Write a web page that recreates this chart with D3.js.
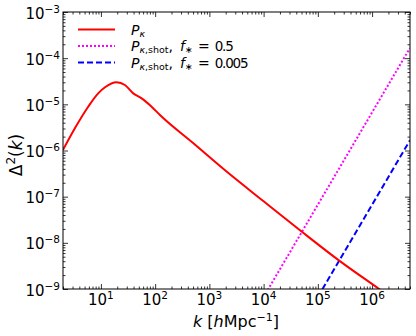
<!DOCTYPE html>
<html><head><meta charset="utf-8">
<script src="https://cdn.jsdelivr.net/npm/d3@7"></script>
<style>body{margin:0;background:#fff}svg{display:block}</style>
</head><body><svg id="c" width="416" height="336"></svg>
<script>
// ---- data ----
const redK = [2.0, 3.31, 5.83, 8.91, 11.9, 19.5, 27.7, 39.4, 56.4, 86.1, 122.7, 501, 1995, 10000, 50100, 251000, 1350000, 2000000];
const redD = [1.03e-6, 3.03e-6, 8.89e-6, 1.73e-5, 2.34e-5, 3.0e-5, 2.62e-5, 1.73e-5, 1.35e-5, 8.9e-6, 5.87e-6, 1.45e-6, 3.63e-7, 7.94e-8, 1.76e-8, 4.07e-9, 1.0e-9, 7.2e-10];
const shotHighK = [1.0e4, 1.22e4, 5.0e6];
const shotHighD = [6.7e-10, 1.0e-9, 1.67e-4];
const shotLowK = [1.0e5, 1.22e5, 5.0e6];
const shotLowD = [6.7e-10, 1.0e-9, 1.67e-6];
const xTickExps = [1, 2, 3, 4, 5, 6];
const yTickExps = [-9, -8, -7, -6, -5, -4, -3];
const legendRows = [
  {key: "red", color: "#ff0000", dash: null},
  {key: "high", color: "#ff00ff", dash: "2,2", f: "0.5"},
  {key: "low", color: "#0000ff", dash: "6,3", f: "0.005"}
];

// ---- layout ----
const L = 63, R = 410, T = 12, B = 289;
const svg = d3.select("#c");
const FONT = "DejaVu Sans";
const x = d3.scaleLog().domain([2, 5e6]).range([L, R]);
const y = d3.scaleLog().domain([1e-9, 1e-3]).range([B, T]);

svg.append("defs").append("clipPath").attr("id", "clip")
  .append("rect").attr("x", L).attr("y", T).attr("width", R - L).attr("height", B - T);

// minor tick values
const xMinor = [];
for (let e = 0; e <= 6; e++) for (let m = 2; m <= 9; m++) { const v = m * Math.pow(10, e); if (v >= 2 && v <= 5e6) xMinor.push(v); }
const yMinor = [];
for (let e = -9; e < -3; e++) for (let m = 2; m <= 9; m++) yMinor.push(m * Math.pow(10, e));
const xMajor = xTickExps.map(e => Math.pow(10, e));
const yMajor = yTickExps.map(e => Math.pow(10, e));

const MAJ = 5, MIN = 2.5;
function addAxis(axisFn, scale, vals, size, tr) {
  const g = svg.append("g").attr("transform", tr)
    .call(axisFn(scale).tickValues(vals).tickSize(-size).tickFormat(""));
  g.select(".domain").remove();
  g.selectAll("line").attr("stroke", "#000").attr("stroke-width", 0.8);
  return g;
}
addAxis(d3.axisBottom, x, xMajor, MAJ, `translate(0,${B})`);
addAxis(d3.axisBottom, x, xMinor, MIN, `translate(0,${B})`);
addAxis(d3.axisTop, x, xMajor, MAJ, `translate(0,${T})`);
addAxis(d3.axisTop, x, xMinor, MIN, `translate(0,${T})`);
addAxis(d3.axisLeft, y, yMajor, MAJ, `translate(${L},0)`);
addAxis(d3.axisLeft, y, yMinor, MIN, `translate(${L},0)`);
addAxis(d3.axisRight, y, yMajor, MAJ, `translate(${R},0)`);
addAxis(d3.axisRight, y, yMinor, MIN, `translate(${R},0)`);

// tick labels
const xl = svg.append("g");
xTickExps.forEach(e => {
  const t = xl.append("text").attr("x", x(Math.pow(10, e))).attr("y", B + 16)
    .attr("text-anchor", "middle").attr("font-family", FONT).attr("font-size", 15);
  t.append("tspan").text("10");
  t.append("tspan").attr("dy", -6).attr("font-size", 10.5).text(String(e));
});
const yl = svg.append("g");
yTickExps.forEach(e => {
  const t = yl.append("text").attr("x", L - 3).attr("y", y(Math.pow(10, e)) + 6.5)
    .attr("text-anchor", "end").attr("font-family", FONT).attr("font-size", 15);
  t.append("tspan").text("10");
  t.append("tspan").attr("dy", -6).attr("font-size", 10.5).text("\u2212" + Math.abs(e));
});

// lines
const line = d3.line().x(d => x(d[0])).y(d => y(d[1])).curve(d3.curveMonotoneX);
const plot = svg.append("g").attr("clip-path", "url(#clip)");
plot.append("path").datum(shotHighK.map((k, i) => [k, shotHighD[i]]))
  .attr("d", d3.line().x(d => x(d[0])).y(d => y(d[1])))
  .attr("fill", "none").attr("stroke", "#ff00ff").attr("stroke-width", 2).attr("stroke-dasharray", "2,2");
plot.append("path").datum(shotLowK.map((k, i) => [k, shotLowD[i]]))
  .attr("d", d3.line().x(d => x(d[0])).y(d => y(d[1])))
  .attr("fill", "none").attr("stroke", "#0000ff").attr("stroke-width", 2).attr("stroke-dasharray", "6,3");
plot.append("path").datum(redK.map((k, i) => [k, redD[i]]))
  .attr("d", line).attr("fill", "none").attr("stroke", "#ff0000").attr("stroke-width", 2);

// frame
svg.append("rect").attr("x", L).attr("y", T).attr("width", R - L).attr("height", B - T)
  .attr("fill", "none").attr("stroke", "#000").attr("stroke-width", 1);

// legend
const lg = svg.append("g");
const rowY = [29.5, 46, 62.5];
legendRows.forEach((r, i) => {
  lg.append("line").attr("x1", 78).attr("x2", 115).attr("y1", rowY[i]).attr("y2", rowY[i])
    .attr("stroke", r.color).attr("stroke-width", 2).attr("stroke-dasharray", r.dash);
  const t = lg.append("text").attr("x", 131).attr("y", rowY[i] + 5)
    .attr("font-family", FONT).attr("font-size", 14);
  t.append("tspan").attr("font-style", "italic").text("P");
  t.append("tspan").attr("dy", 2).attr("font-size", 9.5).attr("font-style", "italic").text("\u03ba");
  if (r.key !== "red") {
    t.append("tspan").attr("font-size", 9.5).text(",shot");
    t.append("tspan").attr("dy", -2).text(",");
    t.append("tspan").attr("dx", 7).attr("font-style", "italic").text("f");
    t.append("tspan").attr("dy", 2).attr("font-size", 9.5).text("\u2217");
    t.append("tspan").attr("dy", -2).attr("dx", 5).text("=");
    t.append("tspan").attr("dx", 5).attr("font-size", 13.5).attr("letter-spacing", -1.2).text(r.f);
  }
});

// axis labels
const xt = svg.append("text").attr("x", 236).attr("y", 327).attr("text-anchor", "middle")
  .attr("font-family", FONT).attr("font-size", 16);
xt.append("tspan").attr("font-style", "italic").text("k");
xt.append("tspan").text(" [");
xt.append("tspan").attr("font-style", "italic").text("h");
xt.append("tspan").text("Mpc");
xt.append("tspan").attr("dy", -6).attr("font-size", 11).text("\u22121");
xt.append("tspan").attr("dy", 6).text("]");

const yt = svg.append("text").attr("transform", "translate(22,155) rotate(-90)")
  .attr("text-anchor", "middle").attr("font-family", FONT).attr("font-size", 17);
yt.append("tspan").text("\u0394");
yt.append("tspan").attr("dy", -7).attr("font-size", 12).text("2");
yt.append("tspan").attr("dy", 7).text("(");
yt.append("tspan").attr("font-style", "italic").text("k");
yt.append("tspan").text(")");
</script></body></html>
